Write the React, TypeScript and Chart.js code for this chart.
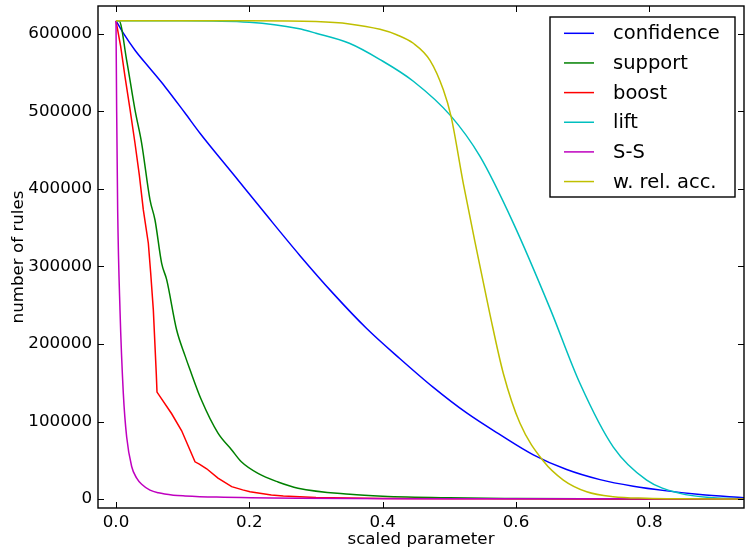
import React, { useEffect, useRef } from "react";
import { Chart, registerables } from "chart.js";

Chart.register(...registerables);

const X_MIN = -0.027;
const X_MAX = 0.942;
const Y_MIN = -11600;
const Y_MAX = 636100;
const X_TICKS = [0, 0.2, 0.4, 0.6, 0.8];
const Y_TICKS = [0, 100000, 200000, 300000, 400000, 500000, 600000];

const SERIES_LABELS = ["confidence", "support", "boost", "lift", "S-S", "w. rel. acc."];
const SERIES_COLORS = ["#0000ff", "#008000", "#ff0000", "#00bfbf", "#bf00bf", "#bfbf00"];
const SERIES_SMOOTH = [true, true, false, true, true, true];

const CONF_X = [0, 0.011, 0.0285, 0.0485, 0.0735, 0.1035, 0.126, 0.176, 0.226, 0.276, 0.326, 0.376, 0.426, 0.476, 0.526, 0.576, 0.626, 0.676, 0.726, 0.776, 0.826, 0.876, 0.942];
const CONF_Y = [617000, 601000, 579000, 558000, 532000, 498000, 472000, 419000, 366000, 314000, 265000, 220000, 181000, 144000, 111000, 83000, 57000, 38000, 25000, 16500, 10500, 5800, 1500];

const SUP_X = [0, 0.0045, 0.016, 0.0285, 0.0385, 0.051, 0.0585, 0.0685, 0.076, 0.091, 0.1035, 0.1105, 0.128, 0.153, 0.173, 0.188, 0.213, 0.243, 0.273, 0.351, 0.4, 0.5, 0.6, 0.7, 0.8, 0.942];
const SUP_Y = [617000, 617000, 566000, 502000, 459000, 386000, 360000, 304000, 283000, 218000, 185000, 168000, 128000, 85000, 64000, 48000, 33000, 22000, 14000, 6000, 3500, 1500, 700, 300, 100, 0];

const BOOST_X = [0, 0.007, 0.0135, 0.021, 0.0285, 0.035, 0.041, 0.0485, 0.052, 0.056, 0.0605, 0.0615, 0.0835, 0.0985, 0.1085, 0.1185, 0.125, 0.136, 0.153, 0.1735, 0.19, 0.201, 0.233, 0.251, 0.3, 0.4, 0.5, 0.942];
const BOOST_Y = [617000, 584000, 545000, 503000, 459000, 418000, 373000, 330000, 292000, 244000, 160000, 138000, 110000, 88000, 68000, 48000, 45000, 39000, 27000, 16000, 11800, 9400, 5200, 3900, 2000, 800, 300, 0];

const LIFT_X = [0, 0.1, 0.2, 0.273, 0.3, 0.35, 0.396, 0.446, 0.5025, 0.546, 0.596, 0.651, 0.696, 0.746, 0.796, 0.846, 0.896, 0.942];
const LIFT_Y = [617000, 617000, 615000, 607000, 601000, 588000, 567000, 539000, 494000, 442000, 356000, 246000, 149000, 67000, 24500, 7300, 1500, 300];

const SS_X = [0, 0.001, 0.0025, 0.006, 0.011, 0.016, 0.0235, 0.031, 0.0385, 0.051, 0.0635, 0.086, 0.1035, 0.151, 0.273, 0.5, 0.942];
const SS_Y = [617000, 500000, 373000, 244000, 136000, 80000, 42000, 27000, 19000, 11500, 8000, 5000, 4000, 2500, 1000, 400, 100];

const WRA_X = [0, 0.2, 0.3, 0.35, 0.396, 0.421, 0.446, 0.471, 0.491, 0.5025, 0.521, 0.541, 0.561, 0.581, 0.606, 0.641, 0.671, 0.706, 0.746, 0.796, 0.85, 0.942];
const WRA_Y = [617000, 617000, 616000, 613000, 606000, 599000, 588000, 566000, 528000, 494000, 407000, 321000, 238000, 162000, 97700, 49000, 24500, 9400, 3000, 1000, 300, 0];

const SERIES_X = [CONF_X, SUP_X, BOOST_X, LIFT_X, SS_X, WRA_X];
const SERIES_Y = [CONF_Y, SUP_Y, BOOST_Y, LIFT_Y, SS_Y, WRA_Y];

const FONT = "'DejaVu Sans', sans-serif";

const framePlugin = {
  id: "mplFrame",
  afterDatasetsDraw(chart: any) {
    const { ctx, chartArea } = chart;
    const { left, right, top, bottom } = chartArea;
    const xs = chart.scales.x;
    const ys = chart.scales.y;
    ctx.save();
    ctx.strokeStyle = "#000";
    ctx.lineWidth = 1;
    const tl = 6;
    ctx.beginPath();
    for (const v of X_TICKS) {
      const px = Math.round(xs.getPixelForValue(v)) + 0.5;
      ctx.moveTo(px, bottom);
      ctx.lineTo(px, bottom - tl);
      ctx.moveTo(px, top);
      ctx.lineTo(px, top + tl);
    }
    for (const v of Y_TICKS) {
      const py = Math.round(ys.getPixelForValue(v)) + 0.5;
      ctx.moveTo(left, py);
      ctx.lineTo(left + tl, py);
      ctx.moveTo(right, py);
      ctx.lineTo(right - tl, py);
    }
    ctx.stroke();
    ctx.lineWidth = 1.4;
    ctx.strokeRect(left, top, right - left, bottom - top);

    // legend
    const bx = 550, by = 17, bw = 185, bh = 180;
    ctx.fillStyle = "#fff";
    ctx.fillRect(bx, by, bw, bh);
    ctx.lineWidth = 1.4;
    ctx.strokeStyle = "#000";
    ctx.strokeRect(bx, by, bw, bh);
    ctx.font = `19.5px ${FONT}`;
    ctx.textAlign = "left";
    ctx.textBaseline = "alphabetic";
    const metas = chart.data.datasets;
    metas.forEach((ds: any, i: number) => {
      const ry = 33.3 + i * 29.65;
      ctx.strokeStyle = ds.borderColor;
      ctx.lineWidth = ds.borderWidth;
      ctx.beginPath();
      ctx.moveTo(564, ry);
      ctx.lineTo(594, ry);
      ctx.stroke();
      ctx.fillStyle = "#000";
      ctx.fillText(ds.label, 613, ry + 6);
    });
    ctx.restore();
  },
};

export default function App() {
  const ref = useRef<HTMLCanvasElement | null>(null);
  useEffect(() => {
    if (!ref.current) return;
    const datasets = SERIES_LABELS.map((label, i) => ({
      label,
      data: SERIES_X[i].map((x, j) => ({ x, y: SERIES_Y[i][j] })),
      borderColor: SERIES_COLORS[i],
      backgroundColor: SERIES_COLORS[i],
      borderWidth: 1.5,
      pointRadius: 0,
      tension: 0,
      cubicInterpolationMode: SERIES_SMOOTH[i] ? ("monotone" as const) : ("default" as const),
      fill: false,
      order: SERIES_LABELS.length - i,
    }));
    const chart = new Chart(ref.current, {
      type: "line",
      data: { datasets },
      options: {
        animation: false,
        responsive: false,
        devicePixelRatio: 1,
        layout: { padding: { left: 0, right: 1, top: 6, bottom: 0 } },
        plugins: { legend: { display: false }, tooltip: { enabled: false } },
        scales: {
          x: {
            type: "linear",
            min: X_MIN,
            max: X_MAX,
            grid: { display: false, drawTicks: false },
            border: { display: false },
            afterBuildTicks: (s: any) => {
              s.ticks = X_TICKS.map((v) => ({ value: v }));
            },
            afterFit: (s: any) => {
              s.height = 40;
              s.paddingLeft = 0;
              s.paddingRight = 0;
            },
            ticks: {
              autoSkip: false,
              maxRotation: 0,
              padding: 5,
              color: "#000",
              font: { family: FONT, size: 16.7 },
              callback: (v: any) => Number(v).toFixed(1),
            },
            title: {
              display: true,
              text: "scaled parameter",
              color: "#000",
              font: { family: FONT, size: 16.7 },
              padding: { top: 0, bottom: -2 },
            },
          },
          y: {
            type: "linear",
            min: Y_MIN,
            max: Y_MAX,
            grid: { display: false, drawTicks: false },
            border: { display: false },
            afterBuildTicks: (s: any) => {
              s.ticks = Y_TICKS.map((v) => ({ value: v }));
            },
            afterFit: (s: any) => {
              s.width = 98;
              s.paddingTop = 0;
              s.paddingBottom = 0;
            },
            ticks: {
              autoSkip: false,
              padding: 6,
              color: "#000",
              font: { family: FONT, size: 16.7 },
              callback: (v: any) => String(v),
            },
            title: {
              display: true,
              text: "number of rules",
              color: "#000",
              font: { family: FONT, size: 16.7 },
              padding: { top: 9, bottom: 0 },
            },
          },
        },
      },
      plugins: [framePlugin],
    });
    return () => chart.destroy();
  }, []);
  return (
    <div style={{ position: "absolute", left: 0, top: 0, width: 745, height: 548, background: "#fff" }}>
      <canvas ref={ref} width={745} height={548} />
    </div>
  );
}
